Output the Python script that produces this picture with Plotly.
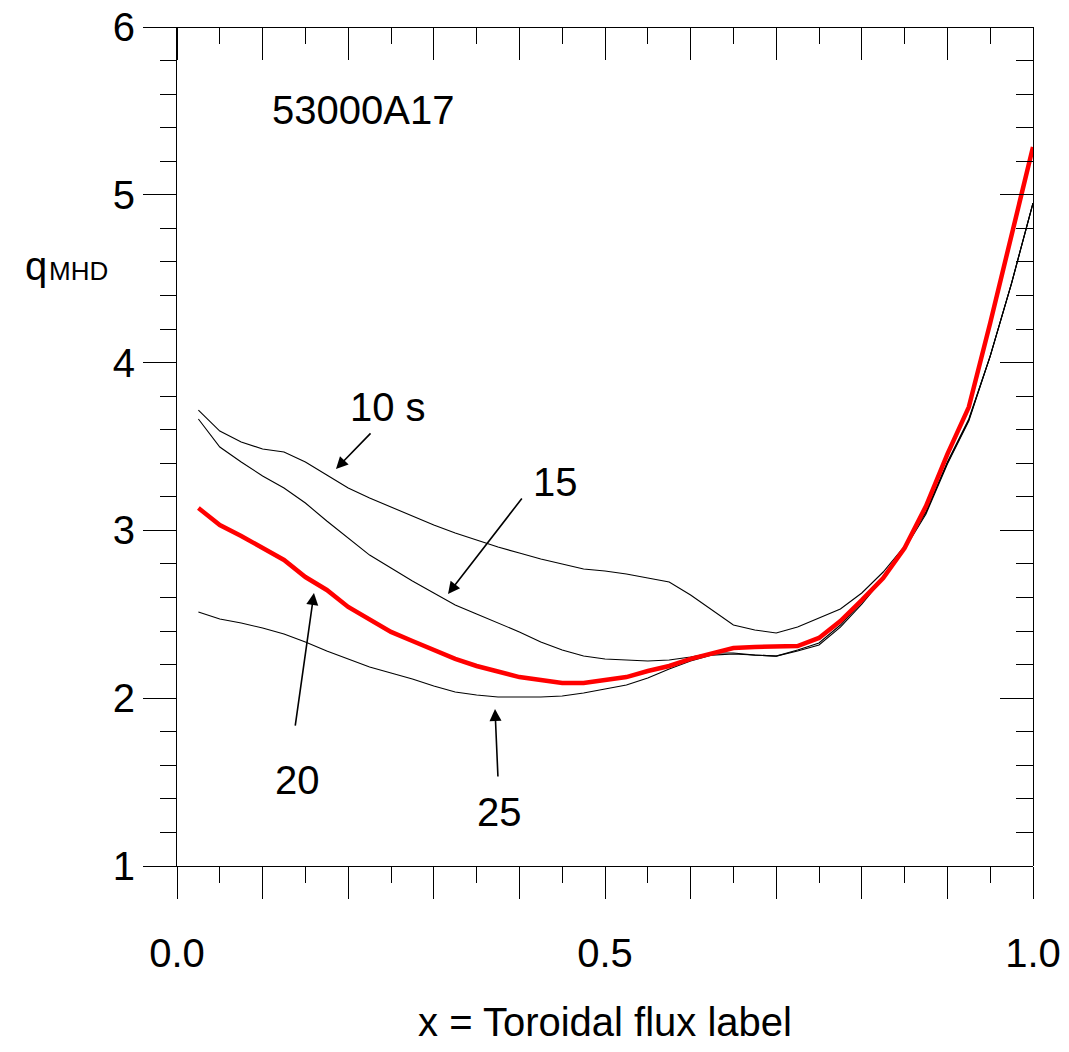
import plotly.graph_objects as go

# toroidal flux label grid
x_grid = [0.025, 0.05, 0.075, 0.1, 0.125, 0.15, 0.175, 0.2, 0.225, 0.25,
          0.275, 0.3, 0.325, 0.35, 0.375, 0.4, 0.425, 0.45, 0.475, 0.5,
          0.525, 0.55, 0.575, 0.6, 0.625, 0.65, 0.675, 0.7, 0.725, 0.75,
          0.775, 0.8, 0.825, 0.85, 0.875, 0.9, 0.925, 0.95, 0.975, 1.0]

# q_MHD profiles at 10 s, 15 s, 20 s, 25 s
q_10s = [3.717, 3.592, 3.527, 3.485, 3.467, 3.408, 3.330, 3.253, 3.193, 3.139,
         3.086, 3.032, 2.984, 2.943, 2.901, 2.865, 2.830, 2.800, 2.770, 2.758,
         2.740, 2.716, 2.692, 2.615, 2.526, 2.436, 2.406, 2.389, 2.424, 2.478,
         2.532, 2.627, 2.752, 2.907, 3.110, 3.408, 3.664, 4.039, 4.474, 4.951]
q_15s = [3.664, 3.497, 3.408, 3.324, 3.253, 3.163, 3.056, 2.955, 2.853, 2.776,
         2.698, 2.627, 2.555, 2.502, 2.448, 2.395, 2.335, 2.287, 2.251, 2.234,
         2.228, 2.222, 2.228, 2.246, 2.269, 2.269, 2.257, 2.251, 2.287, 2.329,
         2.436, 2.573, 2.722, 2.901, 3.110, 3.402, 3.658, 4.039, 4.474, 4.951]
q_20s = [3.133, 3.032, 2.967, 2.895, 2.824, 2.722, 2.645, 2.544, 2.466, 2.395,
         2.341, 2.287, 2.234, 2.192, 2.156, 2.126, 2.108, 2.091, 2.091, 2.108,
         2.126, 2.162, 2.192, 2.234, 2.269, 2.299, 2.305, 2.305, 2.311, 2.359,
         2.460, 2.585, 2.716, 2.895, 3.145, 3.455, 3.735, 4.236, 4.760, 5.285]
q_25s = [2.514, 2.472, 2.448, 2.418, 2.383, 2.335, 2.281, 2.234, 2.186, 2.150,
         2.114, 2.073, 2.037, 2.019, 2.007, 2.007, 2.007, 2.013, 2.031, 2.055,
         2.079, 2.120, 2.174, 2.222, 2.257, 2.263, 2.257, 2.251, 2.281, 2.317,
         2.424, 2.561, 2.716, 2.889, 3.098, 3.396, 3.652, 4.039, 4.474, 4.951]

x_tickvals = [0.0, 0.1, 0.2, 0.3, 0.4, 0.5, 0.6, 0.7, 0.8, 0.9, 1.0]
x_ticktext = ['0.0', '', '', '', '', '0.5', '', '', '', '', '1.0']

FONT = 'Liberation Sans, Arial, sans-serif'

fig = go.Figure()
for q in (q_10s, q_15s, q_25s):
    fig.add_trace(go.Scatter(x=x_grid, y=q, mode='lines',
                             line=dict(color='black', width=1.1),
                             showlegend=False, hoverinfo='skip'))
# red 20 s profile lives on a second subplot stacked exactly on the first;
# its axes give the frame ticks on the top and right
fig.add_trace(go.Scatter(x=x_grid, y=q_20s, mode='lines', xaxis='x2', yaxis='y2',
                         line=dict(color='#ff0000', width=4.5),
                         showlegend=False, hoverinfo='skip'))

# curve labels: (text, x, y) and arrows: (tail x, tail y, head x, head y)
labels = [('53000A17', 0.2173, 5.505), ('10 s', 0.2465, 3.735),
          ('15', 0.4416, 3.288), ('20', 0.1402, 1.512), ('25', 0.3773, 1.322)]
arrows = [(0.2278, 3.587, 0.1857, 3.366), (0.4042, 3.199, 0.3166, 2.621),
          (0.1379, 1.827, 0.160, 2.627), (0.375, 1.524, 0.3715, 1.935)]

for txt, lx, ly in labels:
    fig.add_annotation(x=lx, y=ly, text=txt, showarrow=False,
                       xanchor='center', yanchor='middle',
                       font=dict(family=FONT, size=40, color='black'))
for tx, ty, hx, hy in arrows:
    fig.add_annotation(x=hx, y=hy, ax=tx, ay=ty, xref='x', yref='y',
                       axref='x', ayref='y', text='', showarrow=True,
                       arrowhead=2, arrowsize=1.5, arrowwidth=1.6,
                       arrowcolor='black')

# y label: q with MHD subscript
fig.add_annotation(x=-0.180, y=0.715, xref='paper', yref='paper', text='q',
                   showarrow=False, xanchor='left', yanchor='middle',
                   font=dict(family=FONT, size=40, color='black'))
fig.add_annotation(x=-0.152, y=0.709, xref='paper', yref='paper', text='MHD',
                   showarrow=False, xanchor='left', yanchor='middle',
                   font=dict(family=FONT, size=26, color='black'))

axis_common = dict(showgrid=False, zeroline=False, showline=True,
                   linecolor='black', linewidth=1, tickcolor='black',
                   tickwidth=1)

fig.update_layout(
    width=1053, height=1036,
    paper_bgcolor='white', plot_bgcolor='rgba(0,0,0,0)',
    margin=dict(l=169, r=28, t=19, b=178, autoexpand=False),
    font=dict(family=FONT, size=40, color='black'),
    xaxis=dict(range=[0, 1], domain=[0, 1], anchor='y',
               tickmode='array', tickvals=x_tickvals,
               ticktext=x_ticktext, ticks='outside', ticklen=32,
               ticklabelstandoff=20, ticklabeloverflow='allow',
               minor=dict(dtick=0.05, tick0=0, ticks='outside', ticklen=16,
                          tickcolor='black', tickwidth=1),
               title=dict(text='x = Toroidal flux label', standoff=52,
                          font=dict(size=40)),
               **axis_common),
    yaxis=dict(range=[1, 6], domain=[0, 1], anchor='x',
               tickmode='linear', tick0=1, dtick=1,
               ticks='outside', ticklen=33, ticklabeloverflow='allow',
               minor=dict(dtick=0.2, tick0=1, ticks='outside', ticklen=16,
                          tickcolor='black', tickwidth=1),
               **axis_common),
    # top frame: a bottom-sided axis pinned at the top edge, so its
    # outside ticks hang down into the plot
    xaxis2=dict(range=[0, 1], domain=[0, 1], anchor='free', position=1,
                side='bottom', dtick=0.1, ticks='outside', ticklen=32,
                showticklabels=False,
                minor=dict(dtick=0.05, ticks='outside', ticklen=16,
                           tickcolor='black', tickwidth=1),
                **axis_common),
    yaxis2=dict(range=[1, 6], domain=[0, 1], anchor='x2', side='right',
                tickmode='linear', tick0=1, dtick=1, ticks='inside',
                ticklen=33, showticklabels=False,
                minor=dict(dtick=0.2, tick0=1, ticks='inside', ticklen=17,
                           tickcolor='black', tickwidth=1),
                **axis_common),
)

fig.write_html("out.html")
